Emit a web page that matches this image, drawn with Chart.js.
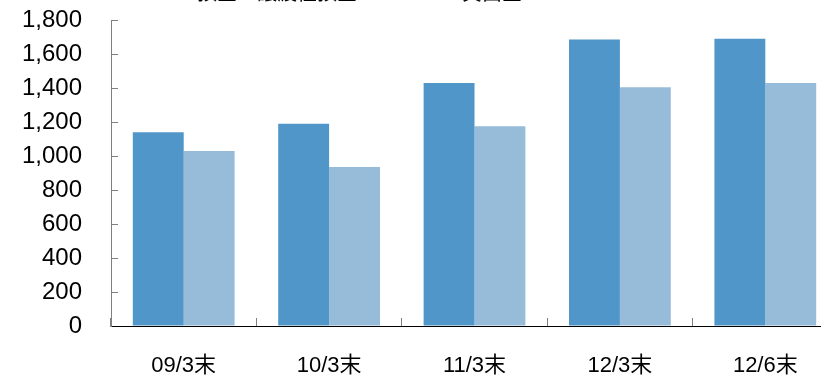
<!DOCTYPE html>
<html>
<head>
<meta charset="utf-8">
<script src="https://cdn.jsdelivr.net/npm/chart.js@4/dist/chart.umd.min.js"></script>
<style>
  html, body { margin: 0; padding: 0; background: #fff; overflow: hidden; width: 821px; height: 376px; }
  #c { position: absolute; left: 0; top: -40px; }
</style>
</head>
<body>
<canvas id="c" width="838" height="426"></canvas>
<script>
const categories = ['09/3末', '10/3末', '11/3末', '12/3末', '12/6末'];
const seriesNames = ['預金・譲渡性預金', '貸出金'];
const deposits = [1140, 1190, 1430, 1685, 1690];
const loans = [1030, 935, 1175, 1405, 1430];
const yTicks = [0, 200, 400, 600, 800, 1000, 1200, 1400, 1600, 1800];

// The legend sits partly above the visible frame, as in the reference.
const legendPlacement = {
  id: 'legendPlacement',
  afterLayout(chart) {
    const lg = chart.legend;
    if (!lg) return;
    const dy = 6 - lg.top;
    lg.top += dy; lg.bottom += dy;
    lg.left = 92;
  }
};

const ctx = document.getElementById('c').getContext('2d');
new Chart(ctx, {
  type: 'bar',
  data: {
    labels: categories,
    datasets: [
      { label: seriesNames[0], data: deposits, backgroundColor: '#5096C8', borderWidth: 0 },
      { label: seriesNames[1], data: loans, backgroundColor: '#96BCD9', borderWidth: 0 }
    ]
  },
  plugins: [legendPlacement],
  options: {
    responsive: false,
    animation: false,
    layout: { padding: { left: 0, top: 14, right: 0, bottom: 0 } },
    datasets: { bar: { categoryPercentage: 0.7, barPercentage: 1.0 } },
    plugins: {
      legend: {
        display: true,
        position: 'top',
        align: 'start',
        labels: {
          boxWidth: 79,
          boxHeight: 6,
          padding: 16,
          color: '#000',
          font: { family: "'Noto Sans CJK JP'", size: 20 }
        }
      },
      tooltip: { enabled: false }
    },
    scales: {
      x: {
        grid: { display: true, drawOnChartArea: false, drawTicks: true, tickLength: -8, color: '#808080', offset: true },
        border: { display: true, color: '#000', width: 1 },
        ticks: { color: '#000', padding: 35, font: { family: "'Liberation Sans', 'Noto Sans CJK JP'", size: 22 }, maxRotation: 0, autoSkip: false },
        afterFit: (s) => { s.height = 60; }
      },
      y: {
        min: 0,
        max: 1800,
        afterBuildTicks: (s) => { s.ticks = yTicks.map(v => ({ value: v })); },
        grid: { display: true, drawOnChartArea: false, drawTicks: true, tickLength: -7, color: '#808080' },
        border: { display: true, color: '#808080', width: 1 },
        ticks: { color: '#000', padding: 36, font: { family: "'Liberation Sans'", size: 24 }, callback: (v) => v.toLocaleString('en-US') },
        afterFit: (s) => { s.width = 111; }
      }
    }
  }
});
</script>
</body>
</html>
